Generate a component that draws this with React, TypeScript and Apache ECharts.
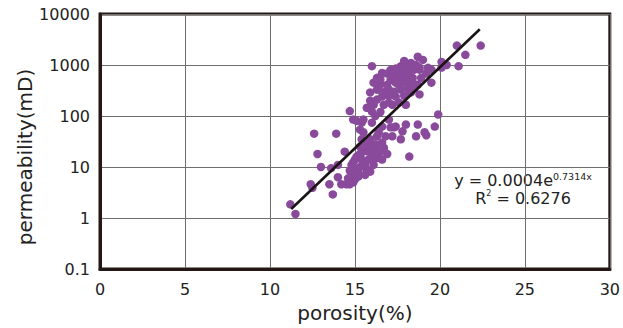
import { useEffect, useRef } from "react";
import * as echarts from "echarts";

// Core plug measurements: porosity (%) and permeability (mD)
const porosity = [
  11.2, 11.5, 12.4, 12.5, 12.6, 13.9, 12.8, 13.0, 13.5, 13.7, 13.6, 14.0, 14.4, 14.7, 14.9,
  16.0, 16.3, 16.9, 18.2, 19.9, 19.7, 19.1, 19.2, 18.7, 18.6, 18.0, 17.8, 17.7, 17.2, 17.3,
  20.1, 20.4, 21.1, 21.0, 22.4, 21.5, 20.1, 19.5, 19.5, 18.7, 19.0, 18.3, 17.9, 18.8, 18.8,
  18.3, 17.3,
  14.0, 14.2, 14.5, 14.7, 14.8, 15.0, 14.6, 14.9, 15.1, 15.3, 15.5, 15.7, 15.2, 14.9, 15.6,
  15.8, 16.0, 15.8, 15.1, 15.6, 15.9, 16.2, 16.4, 16.6, 16.9, 15.3, 14.7, 14.9, 15.2, 15.9,
  16.1, 15.6, 15.4, 15.0, 14.8, 16.1, 15.3, 15.5, 16.0,
  15.3, 15.4, 15.7, 15.5, 15.4, 15.5, 16.0, 16.3, 16.4, 16.6, 16.7, 16.3, 16.7, 16.8, 16.6,
  17.0, 17.1, 17.4, 16.0, 16.3, 15.1, 15.7, 16.0, 16.7, 17.0, 17.2, 17.6, 18.0, 16.2, 16.5,
  15.9, 16.1,
  15.9, 16.3, 16.6, 16.3, 17.4, 17.7, 18.0, 18.2, 18.5, 18.0, 17.7, 17.4, 17.0, 16.1, 16.5,
  17.2, 17.7, 18.3, 18.8, 18.4, 18.7, 16.9, 17.1, 17.5, 17.8, 18.1, 18.4, 18.9, 19.2, 18.6,
  17.0, 17.3, 17.6, 18.1, 16.8, 17.9, 18.5, 16.5, 17.9, 17.4, 16.6, 17.1, 16.4, 19.3,
];

const permeability = [
  1.85, 1.2, 4.6, 3.9, 45, 45, 18, 10, 4.6, 2.9, 9.5, 11, 20, 125, 85,
  950, 560, 680, 16, 107, 62, 48, 42, 68, 40, 68, 50, 35, 40, 60,
  1150, 1000, 950, 2400, 2400, 1580, 890, 810, 450, 1450, 1260, 1100, 1000, 810, 265,
  290, 560,
  6.3, 4.6, 4.6, 4.6, 5.2, 5.7, 6, 7, 9, 10, 12, 9, 6.5, 5, 7,
  14, 25, 20, 16, 25, 35, 28, 18, 14, 18, 25, 8.5, 12.3, 8.1, 8.1,
  11, 11, 14, 14, 11, 14, 18, 20, 18,
  54, 35, 30, 48, 74, 85, 74, 40, 48, 30, 22, 22, 24, 40, 62,
  85, 60, 62, 26, 15, 80, 145, 122, 166, 183, 166, 183, 166, 100, 120,
  200, 165,
  290, 330, 240, 210, 240, 330, 450, 740, 810, 810, 560, 450, 330, 450, 410,
  620, 950, 1050, 890, 450, 410, 410, 510, 740, 680, 600, 560, 560, 680, 1000,
  250, 300, 400, 350, 300, 250, 350, 520, 1200, 850, 700, 800, 330, 880,
];

// Exponential fit: k = A * e^(B * phi)
const fitA = 0.0004;
const fitB = 0.7314;
const fitR2 = 0.6276;
const fitRange = [11.25, 22.35];

const xTicks = [0, 30, 5];
const yRange = [0.1, 10000];

const FONT = "DejaVu Sans";
const INK = "#231815";

export default function App() {
  const ref = useRef<HTMLDivElement>(null);

  useEffect(() => {
    if (!ref.current) return;
    const chart = echarts.init(ref.current, null, { renderer: "svg" });

    const points = porosity.map((p, i) => [p, permeability[i]]);
    const fitLine = fitRange.map((p) => [p, fitA * Math.exp(fitB * p)]);

    chart.setOption({
      animation: false,
      backgroundColor: "#ffffff",
      grid: {
        left: 100,
        right: 12,
        top: 14,
        bottom: 58,
        show: true,
        borderColor: INK,
        borderWidth: 3,
        backgroundColor: "transparent",
      },
      xAxis: {
        type: "value",
        min: xTicks[0],
        max: xTicks[1],
        interval: xTicks[2],
        name: "porosity(%)",
        nameLocation: "middle",
        nameGap: 34,
        nameTextStyle: { fontFamily: FONT, fontSize: 20, color: "#222" },
        axisLine: { show: true, lineStyle: { color: INK, width: 3 } },
        axisTick: { show: false },
        axisLabel: { fontFamily: FONT, fontSize: 16, color: "#222", margin: 12 },
        splitLine: { show: true, lineStyle: { color: "#6e6e6e", width: 1 } },
      },
      yAxis: {
        type: "log",
        logBase: 10,
        min: yRange[0],
        max: yRange[1],
        axisLine: { show: true, lineStyle: { color: INK, width: 3 } },
        axisTick: { show: false },
        axisLabel: {
          fontFamily: FONT,
          fontSize: 16,
          color: "#222",
          margin: 10,
          formatter: (v: number) => (v < 1 ? v.toFixed(1) : String(Math.round(v))),
        },
        splitLine: { show: true, lineStyle: { color: "#6e6e6e", width: 1 } },
      },
      series: [
        {
          type: "scatter",
          data: points,
          symbol: "circle",
          symbolSize: 8.5,
          itemStyle: { color: "#8a4a9c", opacity: 1 },
          z: 2,
        },
        {
          type: "line",
          data: fitLine,
          showSymbol: false,
          symbol: "none",
          lineStyle: { color: "#1a1414", width: 2.6 },
          z: 3,
        },
      ],
      graphic: [
        {
          type: "text",
          x: 25,
          y: 157,
          rotation: Math.PI / 2,
          style: {
            text: "permeability(mD)",
            fontFamily: FONT,
            fontSize: 20,
            fill: "#222",
            align: "center",
            verticalAlign: "middle",
          },
        },
        {
          type: "text",
          x: 523,
          y: 189,
          style: {
            text:
              "y = " + fitA + "e{sup|" + fitB.toFixed(4) + "x}\nR{sup2|2} = " + fitR2.toFixed(4),
            fontFamily: FONT,
            fontSize: 16,
            lineHeight: 18,
            fill: "#222",
            align: "center",
            verticalAlign: "middle",
            rich: {
              sup: {
                fontFamily: FONT,
                fontSize: 9.5,
                lineHeight: 2,
                verticalAlign: "top",
                fill: "#222",
              },
              sup2: {
                fontFamily: FONT,
                fontSize: 8,
                lineHeight: 2,
                verticalAlign: "top",
                fill: "#222",
              },
            },
          },
        },
      ],
    });

    return () => chart.dispose();
  }, []);

  return (
    <div
      ref={ref}
      style={{ position: "fixed", left: 0, top: 0, width: 623, height: 328, background: "#fff" }}
    />
  );
}
